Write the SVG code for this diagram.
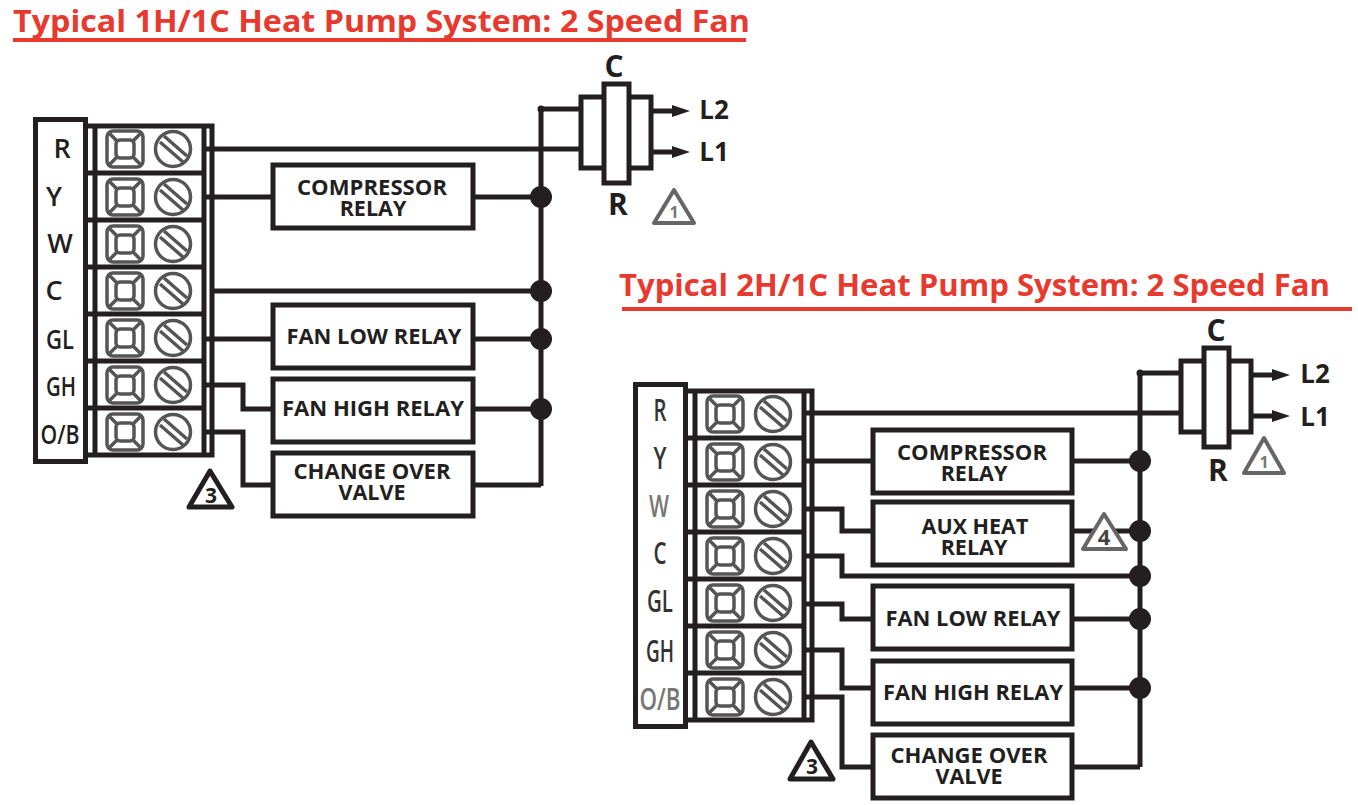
<svg xmlns="http://www.w3.org/2000/svg" xmlns:xlink="http://www.w3.org/1999/xlink" width="1358" height="805" viewBox="0 0 1358 805">
<style>
text{font-family:"Open Sans","Noto Sans","Liberation Sans",sans-serif;fill:#231f20}
.title{font-size:30px;font-weight:700;fill:#e8392f}
.relay{font-size:21.5px;font-weight:700;text-anchor:middle}
.lab{font-size:26px;font-weight:700;text-anchor:middle}
.big{font-size:30px;font-weight:700;text-anchor:middle}
.term{font-size:27px;font-weight:600;text-anchor:middle}
.termc{font-size:30px;font-weight:600;text-anchor:middle;fill:#333}
.w{fill:none;stroke:#231f20;stroke-width:5}
.t{fill:none;stroke:#231f20;stroke-width:5}
.box{fill:#fff;stroke:#231f20;stroke-width:5}
.ic{fill:none;stroke:#555;stroke-width:3.5}
.dot{fill:#231f20}
.ul{stroke:#e8392f;stroke-width:4}
.tri1{fill:#fff;stroke:#666;stroke-width:4;stroke-linejoin:round}
.tri3{fill:#fff;stroke:#231f20;stroke-width:5;stroke-linejoin:round}
</style>
<defs>
<g id="row">
<g class="ic"><rect x="107" y="-18" width="36" height="36" rx="6"/><rect x="116" y="-9" width="18" height="18" rx="4"/><path d="M108-17l9 9M142-17l-9 9M108 17l9-9M142 17l-9-9"/>
<circle cx="173" cy="0" r="17.5"/><path d="M164-13l23 20M160-7l23 20"/></g>
</g>
<g id="block">
<rect class="box" x="35.500" y="119.500" width="50" height="342"/>
<path class="t" d="M86 126H212V455H86M95 126V455M204 126V455"/>
<path class="t" d="M86 173H205M86 220H205M86 267H205M86 314H205M86 361H205M86 408H205"/>
<use xlink:href="#row" y="149"/><use xlink:href="#row" y="197"/><use xlink:href="#row" y="244"/><use xlink:href="#row" y="291"/><use xlink:href="#row" y="338"/><use xlink:href="#row" y="385"/><use xlink:href="#row" y="432"/>
</g>
<g id="contactor">
<rect class="box" x="581" y="97" width="70" height="71"/>
<rect class="box" x="604" y="84" width="25" height="99"/>
<path class="w" d="M652 111H675M652 152H675"/>
<path class="dot" d="M672 105l18 6-18 6zM672 146l18 6-18 6z"/>
</g>
</defs>
<g id="title-1"><text class="title" x="13" y="32" textLength="737" lengthAdjust="spacingAndGlyphs">Typical 1H/1C Heat Pump System: 2 Speed Fan</text><line class="ul" x1="13" y1="40" x2="746" y2="40"/></g>
<g id="title-2"><text class="title" x="619" y="296" textLength="711" lengthAdjust="spacingAndGlyphs">Typical 2H/1C Heat Pump System: 2 Speed Fan</text><line class="ul" x1="622" y1="309" x2="1352" y2="309"/></g>

<g id="connectors">
<path class="w" d="M541 109V486M541 109H580M205 149H581M205 197H273M473 197H541M212 291H541M205 339H273M473 339H541M205 385H243V409H273M473 409H541M205 432H243V485H273M473 485H541"/>
<path class="w" d="M1140 373V767M1140 373H1180M805 413H1181M805 461H873M1072 461H1140M805 509H842V531H873M1072 531H1140M805 556H842V576H1140M805 604H842V619H873M1072 619H1140M805 650H842V688H873M1072 688H1140M805 697H842V767H873M1072 767H1140"/>
<g class="dot"><circle cx="541" cy="109" r="3.500"/><circle cx="541" cy="197" r="11"/><circle cx="541" cy="291" r="11"/><circle cx="541" cy="339" r="11"/><circle cx="541" cy="409" r="11"/>
<circle cx="1140" cy="373" r="3.500"/><circle cx="1140" cy="461" r="11"/><circle cx="1140" cy="531" r="11"/><circle cx="1140" cy="576" r="11"/><circle cx="1140" cy="619" r="11"/><circle cx="1140" cy="688" r="11"/></g>
</g>

<g id="terminal-1"><use xlink:href="#block"/>
<text class="term" x="62" y="158">R</text><text class="term" x="54" y="206">Y</text><text class="term" x="60" y="253">W</text><text class="term" x="54" y="300">C</text><text class="term" x="60" y="349" textLength="28" lengthAdjust="spacingAndGlyphs">GL</text><text class="term" x="61" y="396" textLength="30" lengthAdjust="spacingAndGlyphs">GH</text><text class="term" x="60" y="444" textLength="39" lengthAdjust="spacingAndGlyphs">O/B</text></g>
<g id="terminal-2"><use xlink:href="#block" x="600" y="265"/>
<text class="termc" x="660" y="421" textLength="13" lengthAdjust="spacingAndGlyphs">R</text><text class="termc" x="660" y="469" textLength="13" lengthAdjust="spacingAndGlyphs">Y</text><text class="termc" x="659" y="517" textLength="20" lengthAdjust="spacingAndGlyphs" style="fill:#777">W</text><text class="termc" x="660" y="564" textLength="13" lengthAdjust="spacingAndGlyphs">C</text><text class="termc" x="660" y="612" textLength="26" lengthAdjust="spacingAndGlyphs">GL</text><text class="termc" x="660" y="662" textLength="28" lengthAdjust="spacingAndGlyphs">GH</text><text class="termc" x="660" y="710" textLength="41" lengthAdjust="spacingAndGlyphs" style="fill:#777">O/B</text></g>

<g id="relay-compressor-1"><rect class="box" x="273" y="165" width="200" height="63"/><text class="relay" x="372" y="195" textLength="150" lengthAdjust="spacingAndGlyphs">COMPRESSOR</text><text class="relay" x="373" y="216">RELAY</text></g>
<g id="relay-fanlow-1"><rect class="box" x="273" y="305" width="200" height="63"/><text class="relay" x="374" y="344" textLength="175" lengthAdjust="spacingAndGlyphs">FAN LOW RELAY</text></g>
<g id="relay-fanhigh-1"><rect class="box" x="273" y="379" width="200" height="63"/><text class="relay" x="373" y="416" textLength="182" lengthAdjust="spacingAndGlyphs">FAN HIGH RELAY</text></g>
<g id="relay-changeover-1"><rect class="box" x="273" y="453" width="200" height="63"/><text class="relay" x="372" y="479" textLength="157" lengthAdjust="spacingAndGlyphs">CHANGE OVER</text><text class="relay" x="372" y="500">VALVE</text></g>

<g id="relay-compressor-2"><rect class="box" x="873" y="430" width="199" height="63"/><text class="relay" x="972" y="460" textLength="150" lengthAdjust="spacingAndGlyphs">COMPRESSOR</text><text class="relay" x="974" y="481">RELAY</text></g>
<g id="relay-aux-2"><rect class="box" x="873" y="502" width="199" height="63"/><text class="relay" x="975" y="534">AUX HEAT</text><text class="relay" x="974" y="555">RELAY</text></g>
<g id="relay-fanlow-2"><rect class="box" x="873" y="586" width="199" height="63"/><text class="relay" x="973" y="626" textLength="175" lengthAdjust="spacingAndGlyphs">FAN LOW RELAY</text></g>
<g id="relay-fanhigh-2"><rect class="box" x="873" y="661" width="199" height="63"/><text class="relay" x="973" y="700" textLength="180" lengthAdjust="spacingAndGlyphs">FAN HIGH RELAY</text></g>
<g id="relay-changeover-2"><rect class="box" x="873" y="735" width="199" height="63"/><text class="relay" x="969" y="763" textLength="157" lengthAdjust="spacingAndGlyphs">CHANGE OVER</text><text class="relay" x="969" y="784">VALVE</text></g>

<g id="contactor-1"><use xlink:href="#contactor"/>
<text class="big" x="614" y="77">C</text><text class="big" x="618" y="215">R</text><text class="lab" x="714" y="119">L2</text><text class="lab" x="714" y="161">L1</text></g>
<g id="contactor-2"><use xlink:href="#contactor" x="600" y="264"/>
<text class="big" x="1216" y="341">C</text><text class="big" x="1218" y="481">R</text><text class="lab" x="1315" y="383">L2</text><text class="lab" x="1315" y="426">L1</text></g>

<g id="note-1a"><path class="tri1" d="M674 190L694 223H654Z"/><text x="674" y="218" style="font-size:16px;font-weight:700;fill:#777;text-anchor:middle">1</text></g>
<g id="note-1b"><path class="tri1" d="M1264 438L1284 473H1244Z"/><text x="1264" y="468" style="font-size:16px;font-weight:700;fill:#777;text-anchor:middle">1</text></g>
<g id="note-3a"><path class="tri3" d="M210 471L232 507H189Z"/><text x="211" y="503" style="font-size:21px;font-weight:700;text-anchor:middle">3</text></g>
<g id="note-3b"><path class="tri3" d="M811 742L833 779H790Z"/><text x="812" y="774" style="font-size:21px;font-weight:700;text-anchor:middle">3</text></g>
<g id="note-4"><path class="tri1" d="M1104 514L1126 549H1083Z"/><text x="1104" y="545" style="font-size:22px;font-weight:700;fill:#444;text-anchor:middle">4</text></g>
</svg>
